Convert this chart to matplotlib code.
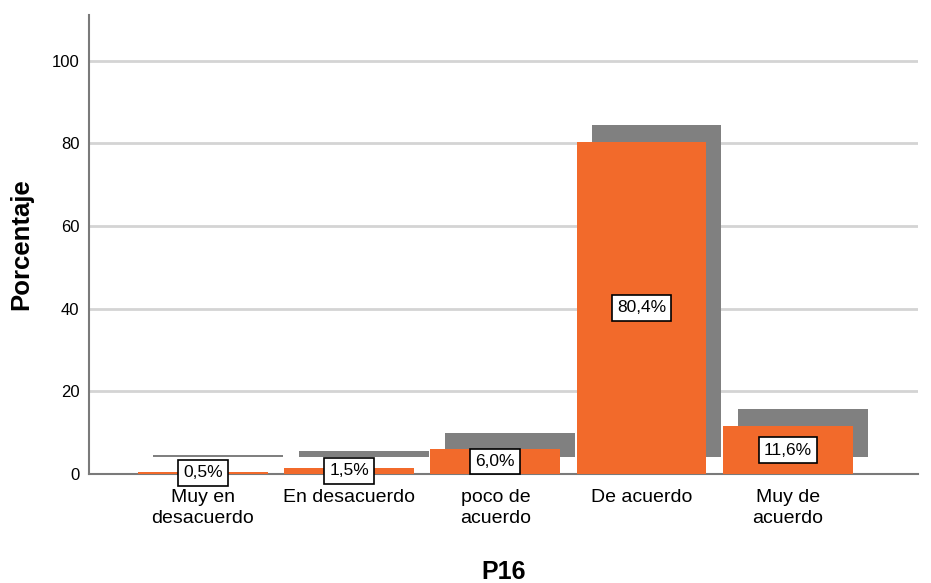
import numpy as np
import matplotlib.pyplot as plt

plt.rcParams['font.family'] = ['Liberation Sans', 'DejaVu Sans']

# data
categories = ['Muy en\ndesacuerdo', 'En desacuerdo', 'poco de\nacuerdo', 'De acuerdo', 'Muy de\nacuerdo']
percent = [0.5, 1.5, 6.0, 80.4, 11.6]
labels = ['0,5%', '1,5%', '6,0%', '80,4%', '11,6%']
yticks = [0, 20, 40, 60, 80, 100]

orange = '#F26A2B'
shadow = '#808080'

fig = plt.figure(figsize=(9.31, 5.83), dpi=100)
ax = fig.add_axes([0.0956, 0.187, 0.89, 0.787])

x = np.arange(len(categories))
w = 0.887
dx = 0.102   # shadow shift right
dy = 4.0     # shadow shift up

# shadow bars first, then the real bars on top
ax.bar(x + dx, percent, w, bottom=dy, color=shadow, zorder=2)
ax.bar(x, percent, w, color=orange, zorder=3)

for xi, v, lab in zip(x, percent, labels):
    ax.text(xi, v / 2, lab, ha='center', va='center', fontsize=12.5, zorder=5, clip_on=False,
            bbox=dict(boxstyle='square,pad=0.3', fc='white', ec='black', lw=1.2))

ax.set_xlim(-0.778, 4.887)
ax.set_ylim(0, 111)
ax.set_yticks(yticks)
ax.yaxis.grid(True, color='#d4d4d4', lw=2)
ax.set_axisbelow(True)

ax.set_xticks(x)
ax.set_xticklabels(categories, fontsize=14, linespacing=1.3)
ax.tick_params(axis='x', length=0, pad=11)
ax.tick_params(axis='y', length=0, labelsize=12, pad=7)

for s in ['top', 'right']:
    ax.spines[s].set_visible(False)
for s in ['left', 'bottom']:
    ax.spines[s].set_color('#7a7a7a')
    ax.spines[s].set_linewidth(1.5)

ax.set_ylabel('Porcentaje', fontsize=18.5, fontweight='bold', labelpad=13)
ax.set_xlabel('P16', fontsize=18, fontweight='bold', labelpad=24)

fig.savefig('out.png', dpi=100)
